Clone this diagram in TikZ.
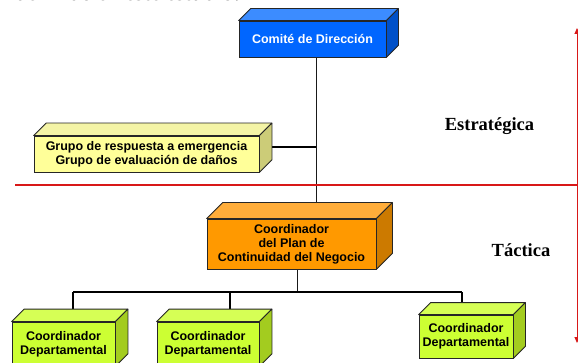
\documentclass[tikz,border=0pt]{standalone}
\usepackage{fontspec}
\setmainfont{Liberation Serif}
\setsansfont{Liberation Sans}
\usetikzlibrary{backgrounds,arrows.meta,calc}
\definecolor{bluefront}{HTML}{0066FF}
\definecolor{bluetop}{HTML}{3C8CFF}
\definecolor{blueside}{HTML}{0050C8}
\definecolor{yelfront}{HTML}{FFFF99}
\definecolor{yeltop}{HTML}{F4F4A6}
\definecolor{yelside}{HTML}{CCCC78}
\definecolor{orafront}{HTML}{FF9900}
\definecolor{oratop}{HTML}{FFAD3A}
\definecolor{oraside}{HTML}{CC7A00}
\definecolor{grnfront}{HTML}{CCFF33}
\definecolor{grntop}{HTML}{D6FF55}
\definecolor{grnside}{HTML}{A3CC1F}
\definecolor{redline}{HTML}{D81818}
\tikzset{
  boxnode/.style={draw=black!85, line width=0.8pt, inner sep=0pt, align=center,
    font=\sffamily\bfseries\fontsize{12.5}{14}\selectfont},
  facestyle/.style={draw=black!85, line width=0.8pt, line join=round},
  link/.style={draw=black, line width=1.4pt},
  thinlink/.style={draw=black!90, line width=0.9pt},
  levellabel/.style={font=\rmfamily\bfseries\fontsize{18.5}{20}\selectfont},
  redrule/.style={draw=redline, line width=1.5pt},
}
\newcommand\cubefaces[4]{%
  \draw[facestyle, fill=#3] (#1.north west) -- ([shift={(#2,-#2)}]#1.north west)
    -- ([shift={(#2,-#2)}]#1.north east) -- (#1.north east) -- cycle;
  \draw[facestyle, fill=#4] (#1.north east) -- ([shift={(#2,-#2)}]#1.north east)
    -- ([shift={(#2,-#2)}]#1.south east) -- (#1.south east) -- cycle;
}
\begin{document}
\begin{tikzpicture}[x=1pt,y=-1pt]
\useasboundingbox (0,0) rectangle (578,363);
\clip (0,0) rectangle (578,363);

% clipped heading text at the top
\node[anchor=base west, inner sep=0pt, font=\rmfamily\bfseries\fontsize{22}{22}\selectfont] (intro) at (15,1) {definido en este estudio:};

% boxes
\node[boxnode, fill=bluefront, text=white, minimum width=147pt, minimum height=36pt] (comite) at (312.5,39) {Comité de Dirección};
\cubefaces{comite}{12}{bluetop}{blueside}

\node[boxnode, fill=yelfront, minimum width=225pt, minimum height=36pt] (grupo) at (146.5,154) {Grupo de respuesta a emergencia\\Grupo de evaluación de daños};
\cubefaces{grupo}{12.5}{yeltop}{yelside}

\node[boxnode, fill=orafront, minimum width=169pt, minimum height=50pt] (coord) at (291.5,244) {Coordinador\\del Plan de\\Continuidad del Negocio};
\cubefaces{coord}{16}{oratop}{oraside}

\node[boxnode, fill=grnfront, minimum width=103pt, minimum height=44pt] (dep1) at (63.5,344) {Coordinador\\Departamental};
\cubefaces{dep1}{12.5}{grntop}{grnside}
\node[boxnode, fill=grnfront, minimum width=102pt, minimum height=44pt] (dep2) at (208,344) {Coordinador\\Departamental};
\cubefaces{dep2}{12.5}{grntop}{grnside}
\node[boxnode, fill=grnfront, minimum width=94pt, minimum height=43pt] (dep3) at (466,336.5) {Coordinador\\Departamental};
\cubefaces{dep3}{12}{grntop}{grnside}

% level labels
\node[levellabel] (estr) at (489.5,126) {Estratégica};
\node[levellabel] (tact) at (521,250) {Táctica};

% connectors (behind the boxes)
\begin{scope}[on background layer]
  \fill[white] (0,0) rectangle (578,363);
  \coordinate (spine) at (316,0);
  \coordinate (yj) at (316,147);
  \coordinate (oj) at (297,292);
  \coordinate (b1) at (73,292);
  \coordinate (b2) at (230,292);
  \coordinate (b3) at (462,292);
  \draw[thinlink] (comite.south -| spine) -- (coord.north -| spine);
  \draw[link] (yj -| grupo.east) -- (yj);
  \draw[thinlink] (coord.south -| oj) -- (oj);
  \draw[link] (b1) -- (b3);
  \draw[link] (b1) -- (b1 |- dep1.north);
  \draw[link] (b2) -- (b2 |- dep2.north);
  \draw[link] (b3) -- (b3 |- dep3.north);
\end{scope}

% red level rules
\coordinate (rl) at (15,185);
\coordinate (rr) at (578,185);
\draw[redrule] (rl) -- (rr);
\coordinate (at) at (577,28);
\coordinate (ab) at (577,343);
\draw[draw=redline, line width=0.9pt, {Triangle[width=5pt,length=6pt]}-{Triangle[width=5pt,length=6pt]}] (at) -- (ab);
\end{tikzpicture}
\end{document}
